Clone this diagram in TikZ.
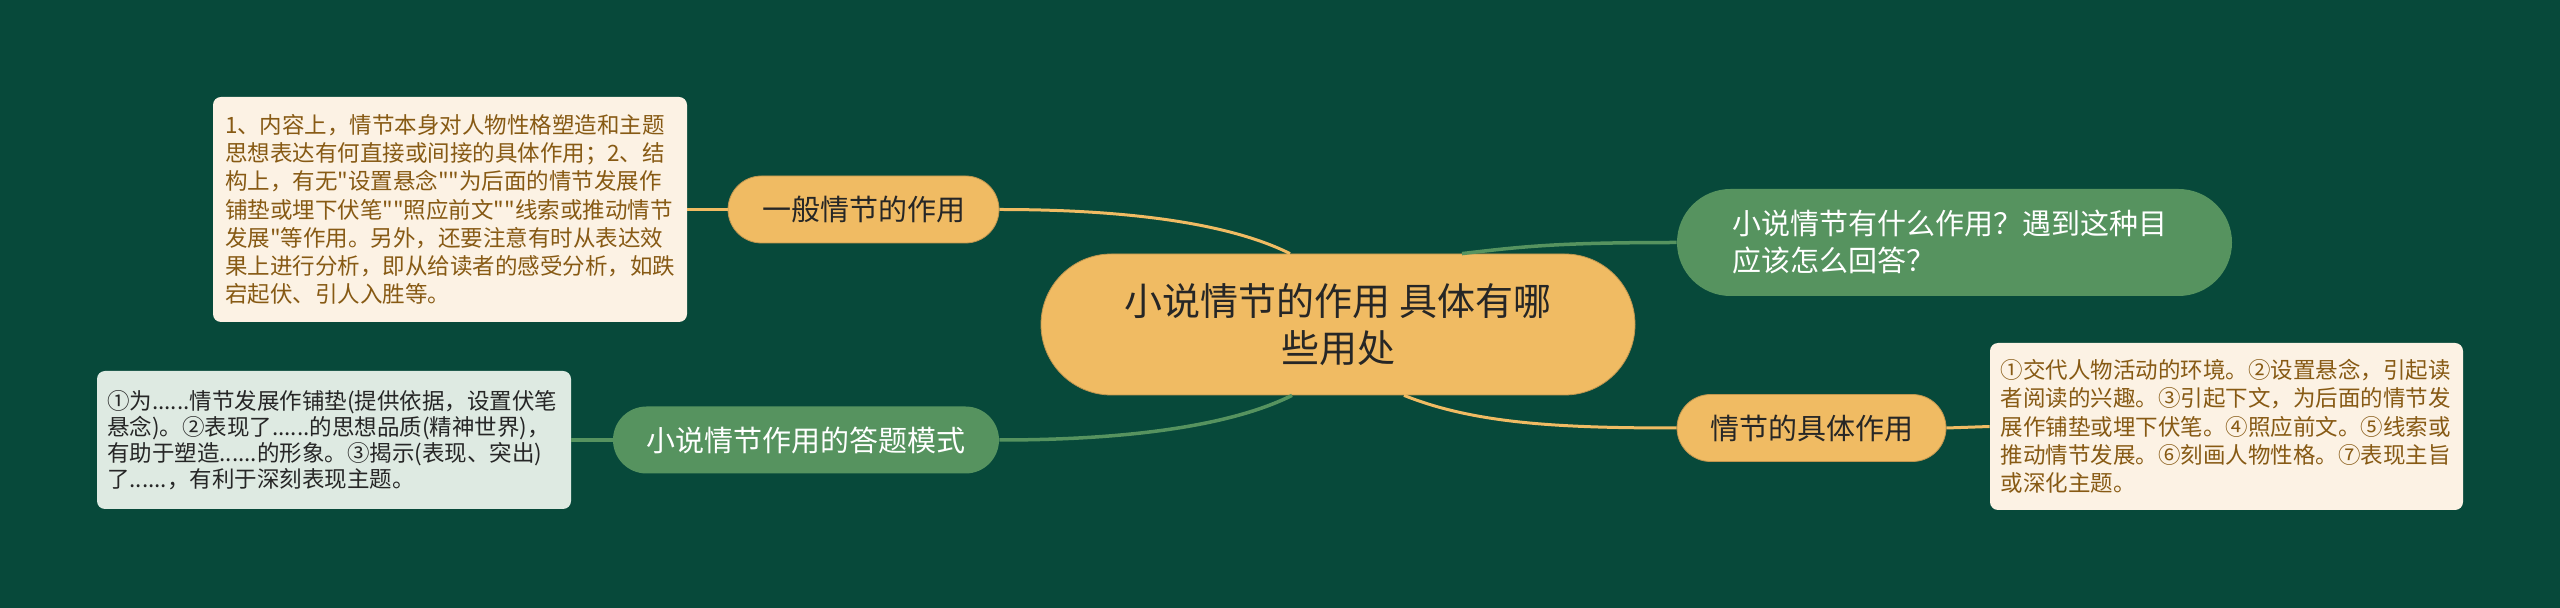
\documentclass[tikz,border=0pt]{standalone}
\usepackage{fontspec}
\newfontfamily\cjk{Noto Sans CJK SC}
\usetikzlibrary{shapes.misc}
\definecolor{bggreen}{RGB}{7,73,58}
\definecolor{gold}{RGB}{240,187,99}
\definecolor{leaf}{RGB}{86,147,95}
\definecolor{cream}{RGB}{252,242,228}
\definecolor{brown}{RGB}{135,90,20}
\definecolor{mint}{RGB}{222,234,226}
\definecolor{ink}{RGB}{38,38,38}

\begin{document}
\begin{tikzpicture}[x=0.5pt, y=-0.5pt,
	gold node/.style={rounded rectangle, fill=gold, draw=gold!80!black, line width=0.4pt, text=ink, inner sep=0pt, minimum height=33.5pt, font=\cjk\fontsize{14.5}{19}\selectfont},
	leaf node/.style={rounded rectangle, fill=leaf, text=white, inner sep=0pt, minimum height=33.5pt, font=\cjk\fontsize{14.5}{18.5}\selectfont},
	note/.style={rectangle, rounded corners=4pt, inner sep=0pt, align=left, font=\cjk\fontsize{11.25}{14.15}\selectfont},
	gold link/.style={draw=gold, line width=1.5pt},
	leaf link/.style={draw=leaf, line width=1.75pt}]
	\fill [bggreen] (0,0) rectangle (2560,608);
	\useasboundingbox (0,0) rectangle (2560,608);
	% centre
	\node [gold node, minimum width=297pt, minimum height=70.5pt, align=center, font=\cjk\fontsize{19}{23.5}\selectfont] (main) at (1338,324.5) {小说情节的作用 具体有哪\\些用处};
	% left side
	\node [gold node, minimum width=135.5pt] (gen) at (863.5,209.5) {一般情节的作用};
	\node [note, fill=cream, text=brown, minimum width=237pt, minimum height=112.5pt, text width=225pt] (genbox) at (450,209.5) {1、内容上，情节本身对人物性格塑造和主题\\思想表达有何直接或间接的具体作用；2、结\\构上，有无"设置悬念""为后面的情节发展作\\铺垫或埋下伏笔""照应前文""线索或推动情节\\发展"等作用。另外，还要注意有时从表达效\\果上进行分析，即从给读者的感受分析，如跌\\宕起伏、引人入胜等。};
	\node [leaf node, minimum width=193pt] (mode) at (806,440) {小说情节作用的答题模式};
	\node [note, fill=mint, text=ink, minimum width=237pt, minimum height=69pt, text width=227pt, font=\cjk\fontsize{11.25}{13}\selectfont] (modebox) at (334,440) {①为......情节发展作铺垫(提供依据，设置伏笔\\悬念)。②表现了......的思想品质(精神世界)，\\有助于塑造......的形象。③揭示(表现、突出)\\了......，有利于深刻表现主题。};
	% right side
	\node [leaf node, minimum width=277.5pt, minimum height=53.5pt, align=left, text width=222pt] (ask) at (1954.5,242.5) {小说情节有什么作用？遇到这种目\\应该怎么回答？};
	\node [gold node, minimum width=134.5pt] (spec) at (1811.5,428) {情节的具体作用};
	\node [note, fill=cream, text=brown, minimum width=236.5pt, minimum height=83.5pt, text width=226pt] (specbox) at (2226.5,426.5) {①交代人物活动的环境。②设置悬念，引起读\\者阅读的兴趣。③引起下文，为后面的情节发\\展作铺垫或埋下伏笔。④照应前文。⑤线索或\\推动情节发展。⑥刻画人物性格。⑦表现主旨\\或深化主题。};
	% links
	\draw [gold link] (gen.east) .. controls +(130,0) and +(-60,-30) .. ([xshift=-24pt]main.north);
	\draw [leaf link] (mode.east) .. controls +(130,0) and +(-60,30) .. ([xshift=-23pt]main.south);
	\draw [leaf link] ([xshift=62pt]main.north) .. controls +(60,-7) and +(-120,0) .. (ask.west);
	\draw [gold link] ([xshift=33pt]main.south) .. controls +(70,28) and +(-120,0) .. (spec.west);
	\draw [gold link] (gen.west) -- (genbox.east);
	\draw [leaf link] (mode.west) -- (modebox.east);
	\draw [gold link] (spec.east) -- (specbox.west);
\end{tikzpicture}
\end{document}
